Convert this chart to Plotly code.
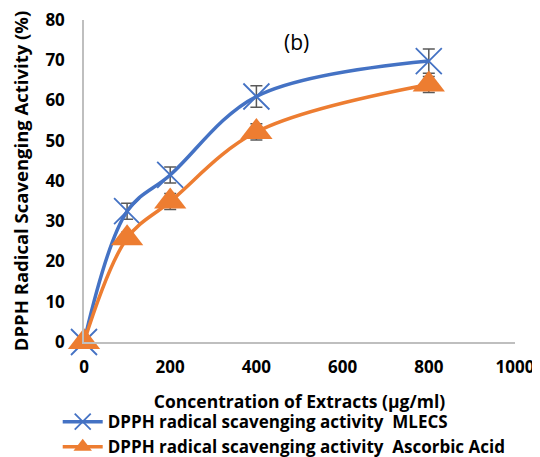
import plotly.graph_objects as go

conc = [0, 100, 200, 400, 800]
mlecs = [0, 32.5, 41.5, 61, 69.8]
mlecs_err = [0, 2.0, 2.0, 2.7, 3.0]
ascorbic = [0, 25.8, 34.9, 52.2, 64.0]
ascorbic_err = [0, 1.5, 2.0, 2.0, 2.0]

x_ticks = [0, 200, 400, 600, 800, 1000]
y_ticks = [0, 10, 20, 30, 40, 50, 60, 70, 80]

FONT = "'Open Sans', sans-serif"
BLUE = "#4472C4"
ORANGE = "#ED7D31"

fig = go.Figure()
fig.add_trace(go.Scatter(
    x=conc, y=mlecs, mode="lines+markers", line_shape="spline", cliponaxis=False,
    name="DPPH radical scavenging activity  MLECS",
    line=dict(color=BLUE, width=3.5),
    marker=dict(symbol="x-thin-open", size=26, line=dict(color=BLUE, width=1.8), color=BLUE),
    error_y=dict(type="data", array=mlecs_err, color="#595959", thickness=1.5, width=6),
))
fig.add_trace(go.Scatter(
    x=conc, y=ascorbic, mode="lines+markers", line_shape="spline", cliponaxis=False,
    name="DPPH radical scavenging activity  Ascorbic Acid",
    line=dict(color=ORANGE, width=3.5),
    marker=dict(symbol="triangle-up", size=28, color=ORANGE),
    error_y=dict(type="data", array=ascorbic_err, color="#595959", thickness=1.5, width=6),
))

fig.add_annotation(x=494, y=74.5, text="(b)", showarrow=False,
                   font=dict(family=FONT, size=21, color="black"))

fig.update_layout(
    width=532, height=449,
    margin=dict(l=76, r=25, t=12, b=115, autoexpand=False),
    paper_bgcolor="white", plot_bgcolor="white",
    font=dict(family=FONT, color="black"),
    showlegend=True,
    legend=dict(x=-0.061, y=-0.193, xanchor="left", yanchor="top",
                font=dict(family=FONT, size=17, color="black", weight="bold"),
                tracegroupgap=0, itemwidth=40),
    xaxis=dict(range=[0, 1000], tickvals=x_ticks, showgrid=False, zeroline=False,
               showline=True, linecolor="#BFBFBF", linewidth=1.5, automargin=False,
               tickfont=dict(family=FONT, size=17, weight="bold"), ticks="",
               ticklabelstandoff=9, ticklabeloverflow="allow",
               title=dict(text="Concentration of Extracts (µg/ml)", standoff=19,
                          font=dict(family=FONT, size=17.5, weight="bold"))),
    yaxis=dict(range=[0, 80.01], tickvals=y_ticks, showgrid=False, zeroline=False,
               showline=True, linecolor="#BFBFBF", linewidth=1.5, automargin=False,
               tickfont=dict(family=FONT, size=17, weight="bold"), ticks="",
               ticklabelstandoff=14, ticklabeloverflow="allow",
               title=dict(text="DPPH Radical Scavenging Activity (%)", standoff=19,
                          font=dict(family=FONT, size=18.5, weight="bold"))),
)

fig.write_html("out.html")
